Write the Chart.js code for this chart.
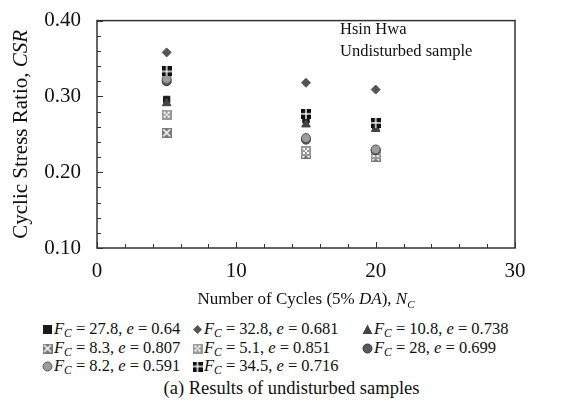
<!DOCTYPE html>
<html>
<head>
<meta charset="utf-8">
<script src="https://cdn.jsdelivr.net/npm/chart.js@4.4.1/dist/chart.umd.min.js"></script>
<style>
  body { margin: 0; background: #fff; font-family: "Liberation Serif", serif; }
  #wrap { position: relative; width: 583px; height: 416px; }
  #chart-box { position: absolute; left: 0; top: 0; width: 583px; height: 312px; }
  .leg { position: absolute; font-size: 16.5px; white-space: nowrap; color: #111; line-height: 18px; }
  .leg canvas { vertical-align: -1px; margin-right: 1px; }
  .leg sub { font-size: 11.5px; vertical-align: -3px; line-height: 0; }
  #caption { position: absolute; left: 0; width: 583px; top: 378px; text-align: center; font-size: 18.5px; color: #111; }
</style>
</head>
<body>
<div id="wrap">
  <div id="chart-box"><canvas id="csr-chart"></canvas></div>
  <div id="legend"></div>
  <div id="caption">(a) Results of undisturbed samples</div>
</div>
<script>
// -------------------------------------------- data
const cycles = [5, 15, 20];
const fc278 = [0.296, 0.269, 0.259];
const fc328 = [0.358, 0.318, 0.309];
const fc108 = [0.291, 0.263, 0.257];
const fc83 = [0.252, 0.224, 0.220];
const fc51 = [0.276, 0.228, 0.224];
const fc28 = [0.320, 0.243, 0.229];
const fc82 = [0.323, 0.245, 0.230];
const fc345 = [0.333, 0.277, 0.265];

const fcLabels = ['27.8', '32.8', '10.8', '8.3', '5.1', '28', '8.2', '34.5'];
const eLabels = ['0.64', '0.681', '0.738', '0.807', '0.851', '0.699', '0.591', '0.716'];
const xTicks = [0, 10, 20, 30];
const yTicks = [0.10, 0.20, 0.30, 0.40];

// -------------------------------------------- marker icons
function makeIcon(kind) {
    const c = document.createElement('canvas');
    c.width = 10; c.height = 10;
    const g = c.getContext('2d');
    if (kind === 'xbox') {
        g.fillStyle = '#777'; g.fillRect(0, 0, 10, 10);
        g.strokeStyle = '#fff'; g.lineWidth = 1.6;
        g.beginPath(); g.moveTo(1.5, 1.5); g.lineTo(8.5, 8.5); g.moveTo(8.5, 1.5); g.lineTo(1.5, 8.5); g.stroke();
    } else if (kind === 'dots') {
        g.fillStyle = '#9a9a9a'; g.fillRect(0, 0, 10, 10);
        g.fillStyle = '#fff';
        [[2, 2], [6, 2], [4, 4], [2, 6], [6, 6]].forEach(p => g.fillRect(p[0], p[1], 2, 2));
    } else if (kind === 'plus') {
        g.fillStyle = '#111'; g.fillRect(0, 0, 10, 10);
        g.fillStyle = '#fff';
        g.fillRect(4.3, 0, 1.4, 10); g.fillRect(0, 4.3, 10, 1.4);
    }
    return c;
}

const markers = [
    { style: 'rect', color: '#1a1a1a', border: '#1a1a1a', r: 4.5 },
    { style: 'rectRot', color: '#555', border: '#555', r: 4.5 },
    { style: 'triangle', color: '#444', border: '#444', r: 5 },
    { style: makeIcon('xbox'), color: '#777', border: '#777', r: 5 },
    { style: makeIcon('dots'), color: '#999', border: '#999', r: 5 },
    { style: 'circle', color: '#5a5a5a', border: '#333', r: 4.5 },
    { style: 'circle', color: '#9c9c9c', border: '#555', r: 4.5 },
    { style: makeIcon('plus'), color: '#111', border: '#111', r: 5 },
];
const seriesValues = [fc278, fc328, fc108, fc83, fc51, fc28, fc82, fc345];

const datasets = seriesValues.map((vals, i) => ({
    label: 'Fc = ' + fcLabels[i] + ', e = ' + eLabels[i],
    data: vals.map((v, j) => ({ x: cycles[j], y: v })),
    pointStyle: markers[i].style,
    backgroundColor: markers[i].color,
    borderColor: markers[i].border,
    borderWidth: 1,
    pointRadius: markers[i].r,
    showLine: false,
}));
// draw order: squares/diamond last so they sit on top like the original
datasets.reverse();

// -------------------------------------------- frame, ticks, titles
const framePlugin = {
    id: 'frame',
    afterDraw(chart) {
        const ctx = chart.ctx;
        const a = chart.chartArea;
        const xs = chart.scales.x, ys = chart.scales.y;
        ctx.save();
        ctx.strokeStyle = '#333';
        ctx.lineWidth = 1.5;
        ctx.strokeRect(a.left, a.top, a.right - a.left, a.bottom - a.top);
        ctx.lineWidth = 1;
        ctx.beginPath();
        for (let v = 0; v <= 30; v += 2) {
            const px = Math.round(xs.getPixelForValue(v)) + 0.5;
            const len = v % 10 === 0 ? 6 : 4;
            ctx.moveTo(px, a.bottom); ctx.lineTo(px, a.bottom - len);
        }
        for (let k = 0; k <= 15; k++) {
            const v = 0.10 + k * 0.02;
            const py = Math.round(ys.getPixelForValue(v)) + 0.5;
            const len = k % 5 === 0 ? 6 : 4;
            ctx.moveTo(a.left, py); ctx.lineTo(a.left + len, py);
        }
        ctx.stroke();

        ctx.fillStyle = '#111';
        ctx.textBaseline = 'middle';
        // x title with italic parts
        const xParts = [
            ['Number of Cycles (5% ', '17px "Liberation Serif"'],
            ['DA', 'italic 17px "Liberation Serif"'],
            ['), ', '17px "Liberation Serif"'],
            ['N', 'italic 17px "Liberation Serif"'],
        ];
        let w = 0;
        xParts.forEach(p => { ctx.font = p[1]; w += ctx.measureText(p[0]).width; });
        ctx.font = 'italic 11px "Liberation Serif"';
        w += ctx.measureText('C').width;
        let x = (a.left + a.right) / 2 - w / 2;
        const yTitle = 300;
        ctx.textAlign = 'left';
        xParts.forEach(p => { ctx.font = p[1]; ctx.fillText(p[0], x, yTitle); x += ctx.measureText(p[0]).width; });
        ctx.font = 'italic 11px "Liberation Serif"';
        ctx.fillText('C', x, yTitle + 5);

        // y title rotated
        ctx.save();
        ctx.translate(21, (a.top + a.bottom) / 2);
        ctx.rotate(-Math.PI / 2);
        const yParts = [
            ['Cyclic Stress Ratio, ', '21px "Liberation Serif"'],
            ['CSR', 'italic 21px "Liberation Serif"'],
        ];
        w = 0;
        yParts.forEach(p => { ctx.font = p[1]; w += ctx.measureText(p[0]).width; });
        x = -w / 2;
        yParts.forEach(p => { ctx.font = p[1]; ctx.fillText(p[0], x, 0); x += ctx.measureText(p[0]).width; });
        ctx.restore();

        // annotation
        ctx.font = '16.5px "Liberation Serif"';
        ctx.fillText('Hsin Hwa', 340, 30);
        ctx.fillText('Undisturbed sample', 340, 52);
        ctx.restore();
    }
};

const ctx = document.querySelector('#csr-chart').getContext('2d');
const csrChart = new Chart(ctx, {
    type: 'scatter',
    data: { datasets: datasets },
    options: {
        responsive: true,
        maintainAspectRatio: false,
        animation: false,
        layout: { padding: { left: 0, right: 68, top: 14, bottom: 0 } },
        plugins: {
            legend: { display: false },
            tooltip: { enabled: false },
        },
        scales: {
            x: {
                type: 'linear',
                min: 0, max: 30,
                afterBuildTicks: (s) => { s.ticks = xTicks.map(v => ({ value: v })); },
                afterFit: (s) => { s.height = 64; },
                grid: { display: false },
                border: { display: false },
                ticks: {
                    color: '#111',
                    padding: 3,
                    font: { family: 'Liberation Serif', size: 21 },
                },
            },
            y: {
                type: 'linear',
                min: 0.10, max: 0.40,
                afterBuildTicks: (s) => { s.ticks = yTicks.map(v => ({ value: v })); },
                afterFit: (s) => { s.width = 97; },
                grid: { display: false },
                border: { display: false },
                ticks: {
                    color: '#111',
                    padding: 8,
                    font: { family: 'Liberation Serif', size: 21 },
                    callback: (v) => v.toFixed(2),
                },
            },
        },
    },
    plugins: [framePlugin],
});

// -------------------------------------------- legend
const legend = document.querySelector('#legend');
const colLeft = [42, 192, 362];
const rowTop = [320, 339, 357];
seriesValues.forEach((vals, i) => {
    const item = document.createElement('div');
    item.className = 'leg';
    item.style.left = colLeft[i % 3] + 'px';
    item.style.top = rowTop[Math.floor(i / 3)] + 'px';
    const icon = document.createElement('canvas');
    icon.width = 11; icon.height = 11;
    const g = icon.getContext('2d');
    const m = markers[i];
    g.fillStyle = m.color; g.strokeStyle = m.border;
    if (typeof m.style !== 'string') {
        g.drawImage(m.style, 0.5, 0.5);
    } else if (m.style === 'rect') {
        g.fillRect(1, 1, 9, 9);
    } else if (m.style === 'rectRot') {
        g.beginPath(); g.moveTo(5.5, 1); g.lineTo(10, 5.5); g.lineTo(5.5, 10); g.lineTo(1, 5.5); g.closePath(); g.fill();
    } else if (m.style === 'triangle') {
        g.beginPath(); g.moveTo(5.5, 0.5); g.lineTo(10.5, 10); g.lineTo(0.5, 10); g.closePath(); g.fill();
    } else {
        g.beginPath(); g.arc(5.5, 5.5, 4.5, 0, Math.PI * 2); g.fill(); g.stroke();
    }
    item.appendChild(icon);
    const text = document.createElement('span');
    text.innerHTML = '<i>F</i><sub><i>C</i></sub> = ' + fcLabels[i] + ', <i>e</i> = ' + eLabels[i];
    item.appendChild(text);
    legend.appendChild(item);
});
</script>
</body>
</html>
